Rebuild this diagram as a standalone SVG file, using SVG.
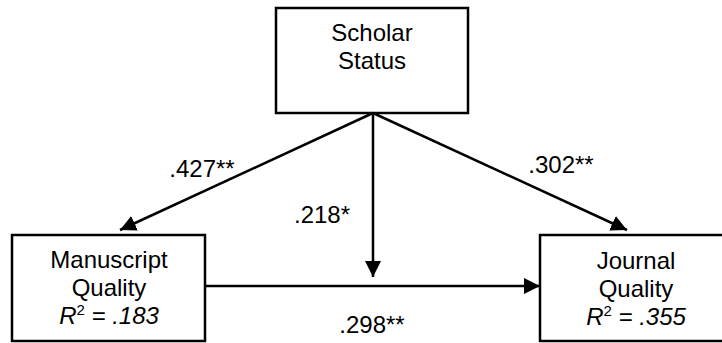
<svg xmlns="http://www.w3.org/2000/svg" width="722" height="343" viewBox="0 0 722 343">
  <style>
    .box { fill: #ffffff; stroke: #000000; stroke-width: 2.5; }
    .lbl { font-family: "Liberation Sans", Arial, sans-serif; font-size: 24px; fill: #000000; text-anchor: middle; }
    .it { font-style: italic; }
    .edge { stroke: #000000; stroke-width: 2.5; fill: none; marker-end: url(#head); }
  </style>
  <defs>
    <marker id="head" viewBox="0 0 16 16" refX="16" refY="8" markerWidth="16" markerHeight="16" markerUnits="userSpaceOnUse" orient="auto">
      <path d="M0,0 L16,8 L0,16 Z" fill="#000000"/>
    </marker>
  </defs>
  <rect x="0" y="0" width="722" height="343" fill="#ffffff"/>

  <g id="scholar-status">
    <rect class="box" x="276" y="8" width="192" height="105"/>
    <text class="lbl" x="372" y="41">Scholar</text>
    <text class="lbl" x="372" y="69">Status</text>
  </g>

  <g id="manuscript-quality">
    <rect class="box" x="12" y="235" width="193" height="106"/>
    <text class="lbl" x="109" y="268">Manuscript</text>
    <text class="lbl" x="109" y="296">Quality</text>
    <text class="lbl" x="109" y="324"><tspan class="it">R</tspan><tspan font-size="15" dy="-9">2</tspan><tspan class="it" dy="9"> = .183</tspan></text>
  </g>

  <g id="journal-quality">
    <rect class="box" x="540" y="235" width="193" height="106"/>
    <text class="lbl" x="636" y="269">Journal</text>
    <text class="lbl" x="636" y="297">Quality</text>
    <text class="lbl" x="636" y="325"><tspan class="it">R</tspan><tspan font-size="15" dy="-9">2</tspan><tspan class="it" dy="9"> = .355</tspan></text>
  </g>

  <g id="connectors">
    <line class="edge" x1="373" y1="113" x2="120" y2="230"/>
    <line class="edge" x1="373" y1="113" x2="627" y2="230"/>
    <line class="edge" x1="373" y1="113" x2="373" y2="277"/>
    <line class="edge" x1="205" y1="286" x2="540" y2="286"/>
  </g>

  <g id="coefficients">
    <text class="lbl" x="202" y="177">.427**</text>
    <text class="lbl" x="322" y="223">.218*</text>
    <text class="lbl" x="561" y="173">.302**</text>
    <text class="lbl" x="372" y="333">.298**</text>
  </g>
</svg>
